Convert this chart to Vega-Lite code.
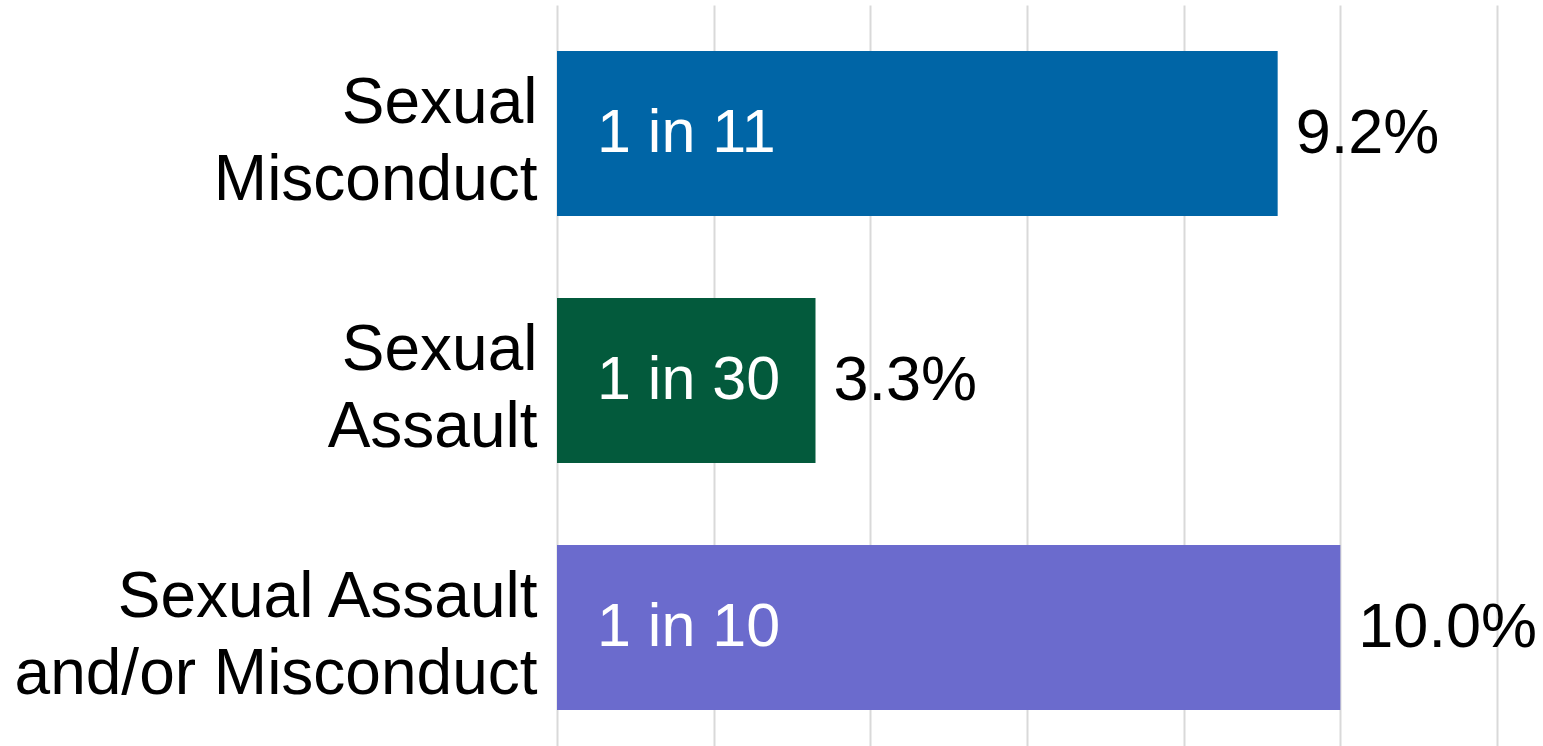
{
  "$schema": "https://vega.github.io/schema/vega-lite/v6.json",
  "width": 940,
  "height": 736,
  "autosize": {"type": "none"},
  "padding": {"left": 557, "top": 10, "right": 46, "bottom": 0},
  "background": "white",
  "config": {"view": {"stroke": null}, "font": "Liberation Sans"},
  "data": {
    "values": [
      {"cat": "Sexual|Misconduct", "value": 9.2, "ratio": "1 in 11", "label": "9.2%", "color": "#0065A6"},
      {"cat": "Sexual|Assault", "value": 3.3, "ratio": "1 in 30", "label": "3.3%", "color": "#035A3C"},
      {"cat": "Sexual Assault|and/or Misconduct", "value": 10.0, "ratio": "1 in 10", "label": "10.0%", "color": "#6B6BCD"}
    ]
  },
  "encoding": {
    "y": {
      "field": "cat",
      "type": "nominal",
      "sort": null,
      "scale": {"paddingInner": 0.332, "paddingOuter": 0.166, "range": [0, 741]},
      "axis": {
        "title": null,
        "ticks": false,
        "domain": false,
        "labelExpr": "split(datum.value, '|')",
        "labelFontSize": 64,
        "labelColor": "#000000",
        "labelPadding": 20,
        "labelLineHeight": 77,
        "labelOffset": -30,
        "labelLimit": 600
      }
    }
  },
  "layer": [
    {
      "mark": {"type": "bar"},
      "encoding": {
        "x": {
          "field": "value",
          "type": "quantitative",
          "scale": {"domain": [0, 12], "nice": false},
          "axis": {
            "title": null,
            "labels": false,
            "ticks": false,
            "domain": false,
            "values": [0, 2, 4, 6, 8, 10, 12],
            "grid": true,
            "gridColor": "#D9D9D9",
            "gridWidth": 2
          }
        },
        "color": {"field": "color", "type": "nominal", "scale": null, "legend": null}
      }
    },
    {
      "mark": {"type": "text", "align": "left", "baseline": "middle", "dx": 40, "fontSize": 61, "color": "white"},
      "encoding": {
        "x": {"datum": 0, "type": "quantitative"},
        "text": {"field": "ratio"}
      }
    },
    {
      "mark": {"type": "text", "align": "left", "baseline": "middle", "dx": 18, "fontSize": 63, "color": "black"},
      "encoding": {
        "x": {"field": "value", "type": "quantitative"},
        "text": {"field": "label"}
      }
    }
  ]
}
